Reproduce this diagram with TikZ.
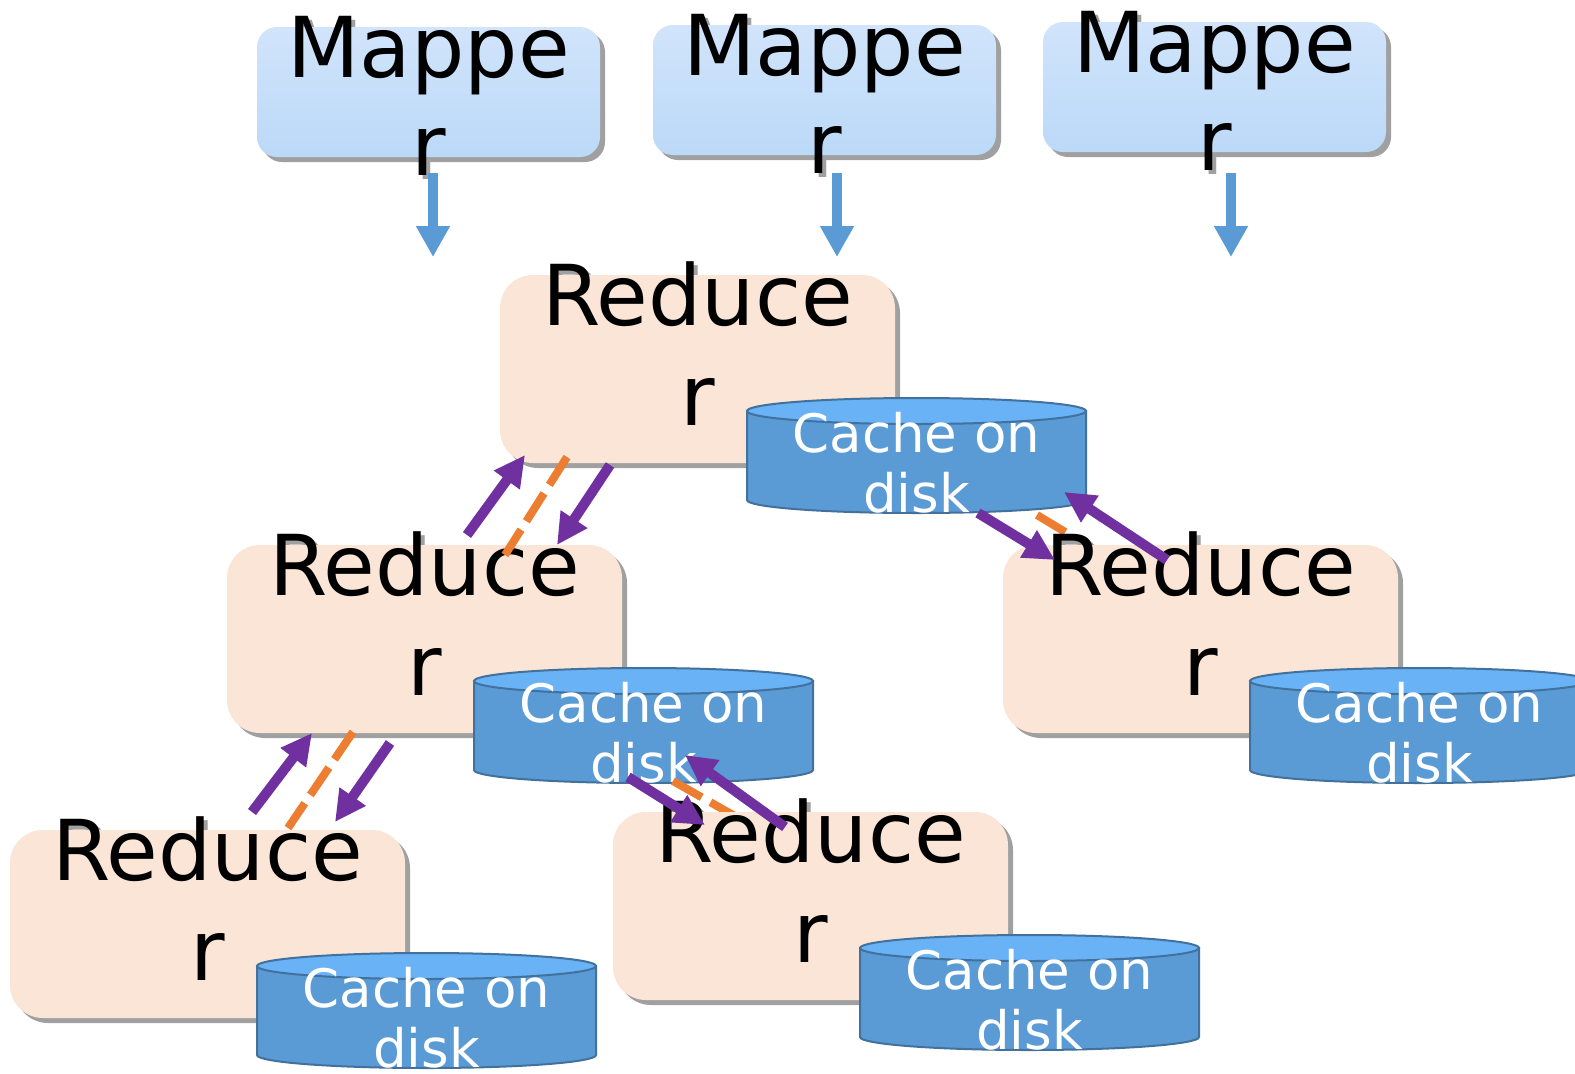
\documentclass[tikz,border=0pt]{standalone}
\usepackage{fontspec}
\setmainfont{DejaVu Sans}
\usetikzlibrary{arrows.meta,shadows}
\definecolor{maptop}{RGB}{209,228,251}
\definecolor{mapbot}{RGB}{187,217,248}
\definecolor{redfill}{RGB}{250,229,214}
\definecolor{cylbody}{RGB}{91,155,213}
\definecolor{cyltop}{RGB}{104,178,245}
\definecolor{cylline}{RGB}{65,113,156}
\definecolor{purp}{RGB}{112,48,160}
\definecolor{orng}{RGB}{237,125,49}
\definecolor{mapblue}{RGB}{91,155,213}
\definecolor{shadowgray}{RGB}{160,160,160}
\tikzset{
  bigtxt/.style={anchor=base,inner sep=0pt,font=\fontsize{84}{99}\selectfont},
  shtxt/.style={bigtxt,text=shadowgray},
  cachetxt/.style={anchor=base,inner sep=0pt,text=white,font=\fontsize{53}{60}\selectfont},
  boxshadow/.style={drop shadow={shadow xshift=5pt,shadow yshift=-5pt,fill=shadowgray,opacity=1}},
  mapbox/.style={rectangle,rounded corners=20pt,minimum width=343pt,minimum height=130pt,inner sep=0pt,top color=maptop,bottom color=mapbot,draw=none,boxshadow},
  redbox/.style={rectangle,rounded corners=33pt,minimum width=395pt,minimum height=188pt,inner sep=0pt,fill=redfill,draw=none,boxshadow},
  maparrow/.style={draw=mapblue,line width=10pt,-{Triangle[width=32pt,length=31pt]}},
  flowarrow/.style={draw=purp,line width=10pt,-{Triangle[width=30pt,length=31pt]}},
  backline/.style={draw=orng,line width=8pt,dash pattern=on 33pt off 10pt},
}
\newcommand\mymapper[4]{% name, left, top, arrow x
  \node[shtxt] (#1sa) at ({#2+171.5+4},{#3+50+4}) {Mappe};
  \node[shtxt] (#1sb) at ({#2+171.5+4},{#3+148+4}) {r};
  \node[mapbox] (#1) at ({#2+171.5},{#3+65}) {};
  \node[bigtxt] (#1ta) at ({#2+171.5},{#3+50}) {Mappe};
  \node[bigtxt] (#1tb) at ({#2+171.5},{#3+148}) {r};
  \coordinate (#1s) at (#4,173);
  \coordinate (#1e) at (#4,257);
  \draw[maparrow] (#1s) -- (#1e);
}
\newcommand\myreducer[3]{% name, left, top
  \node[shtxt] (#1sa) at ({#2+197.5+4},{#3+50+4}) {Reduce};
  \node[shtxt] (#1sb) at ({#2+197.5+4},{#3+150+4}) {r};
  \node[redbox] (#1) at ({#2+197.5},{#3+94}) {};
  \node[bigtxt] (#1ta) at ({#2+197.5},{#3+50}) {Reduce};
  \node[bigtxt] (#1tb) at ({#2+197.5},{#3+150}) {r};
}
\newcommand\mycyl[3]{% name, left, top-ellipse centre y
  \path[fill=cylbody,draw=cylline,line width=2pt] (#2,{#3+89})
    arc[start angle=180,end angle=360,x radius=169.5pt,y radius=13pt]
    -- ({#2+339},#3) -- (#2,#3) -- cycle;
  \path[fill=cyltop,draw=cylline,line width=2pt] ({#2+169.5},#3) ellipse[x radius=169.5pt,y radius=13pt];
  \coordinate (#1) at ({#2+169.5},{#3+50});
  \begin{scope}
    \clip (#2,{#3-30}) rectangle ({#2+339},{#3+101});
    \node[cachetxt] (#1ta) at ({#2+169.5},{#3+41}) {Cache on};
    \node[cachetxt] (#1tb) at ({#2+169.5},{#3+101}) {disk};
  \end{scope}
}
\begin{document}
\begin{tikzpicture}[x=1pt,y=-1pt]
\useasboundingbox (0,0) rectangle (1575,1074);
\fill[white] (0,0) rectangle (1575,1074);
% mappers
\mymapper{ma}{257}{27}{433}
\mymapper{mb}{653}{25}{837}
\mymapper{mc}{1043}{22}{1231}
% reducers, first layer
\myreducer{ra}{500}{275}
\mycyl{ca}{747}{411}
\myreducer{rb}{227}{545}
\mycyl{cb}{474}{681}
% orange dashed lines
\coordinate (oa1) at (567,457); \coordinate (oa2) at (505,555);
\coordinate (ob1) at (353,732); \coordinate (ob2) at (288,828);
\coordinate (oc1) at (1037,515); \coordinate (oc2) at (1095,550);
\coordinate (od1) at (673,781); \coordinate (od2) at (740,819);
\draw[backline] (oa1) -- (oa2);
\draw[backline] (ob1) -- (ob2);
\draw[backline] (oc1) -- (oc2);
\draw[backline] (od1) -- (od2);
% reducers, second layer
\myreducer{rc}{1003}{545}
\mycyl{cc}{1250}{681}
\myreducer{rd}{10}{830}
\mycyl{cd}{257}{966}
\myreducer{re}{613}{812}
\mycyl{ce}{860}{948}
% purple arrows
\coordinate (pa1) at (467,535); \coordinate (pa2) at (525,455);
\coordinate (pa3) at (610,465); \coordinate (pa4) at (557,545);
\coordinate (pb1) at (252,812); \coordinate (pb2) at (312,733);
\coordinate (pb3) at (390,743); \coordinate (pb4) at (335,822);
\coordinate (pc1) at (978,513); \coordinate (pc2) at (1055,560);
\coordinate (pc3) at (1167,560); \coordinate (pc4) at (1064,492);
\coordinate (pd1) at (628,777); \coordinate (pd2) at (705,825);
\coordinate (pd3) at (785,827); \coordinate (pd4) at (685,755);
\draw[flowarrow] (pa1) -- (pa2);
\draw[flowarrow] (pa3) -- (pa4);
\draw[flowarrow] (pb1) -- (pb2);
\draw[flowarrow] (pb3) -- (pb4);
\draw[flowarrow] (pc1) -- (pc2);
\draw[flowarrow] (pc3) -- (pc4);
\draw[flowarrow] (pd1) -- (pd2);
\draw[flowarrow] (pd3) -- (pd4);
\end{tikzpicture}
\end{document}
